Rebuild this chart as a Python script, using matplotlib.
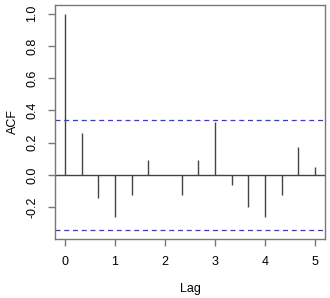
import matplotlib
matplotlib.use("Agg")
import matplotlib.pyplot as plt
import numpy as np

lags = [0, 1/3, 2/3, 1, 4/3, 5/3, 2, 7/3, 8/3, 3, 10/3, 11/3, 4, 13/3, 14/3, 5]
acf = [1.0, 0.259, -0.145, -0.259, -0.124, 0.093, 0.0, -0.124, 0.093, 0.327,
       -0.062, -0.200, -0.259, -0.124, 0.176, 0.052]
ci = 0.342
xticks = [0, 1, 2, 3, 4, 5]
yticks = [-0.2, 0.0, 0.2, 0.4, 0.6, 0.8, 1.0]

plt.rcParams['font.family'] = ['Liberation Sans', 'DejaVu Sans']
fig = plt.figure(figsize=(3.3, 2.98), dpi=100)
ax = fig.add_axes([55/330, 1-239/298, 270/330, 234/298])

ax.vlines(lags, 0, acf, color='#444444', linewidth=1.0)
ax.axhline(0, color='#444444', linewidth=1.0)
ax.axhline(ci, color='#3333ff', linewidth=0.9, linestyle=(0, (4, 3)))
ax.axhline(-ci, color='#3333ff', linewidth=0.9, linestyle=(0, (4, 3)))

ax.set_xlim(-0.2, 5.2)
ax.set_ylim(-0.397, 1.054)
ax.set_xticks(xticks)
ax.set_xticklabels([str(t) for t in xticks])
ax.set_yticks(yticks)
ax.set_yticklabels([f"{t:.1f}" for t in yticks], rotation=90, va='center')
for s in ax.spines.values():
    s.set_color('#777777')
    s.set_linewidth(1.0)
ax.tick_params(direction='out', length=5, width=1, color='#777777', labelsize=9, pad=7)
ax.set_xlabel('Lag', fontsize=9, labelpad=11)
ax.set_ylabel('ACF', fontsize=9, labelpad=5)

fig.savefig('out.png', dpi=100)
